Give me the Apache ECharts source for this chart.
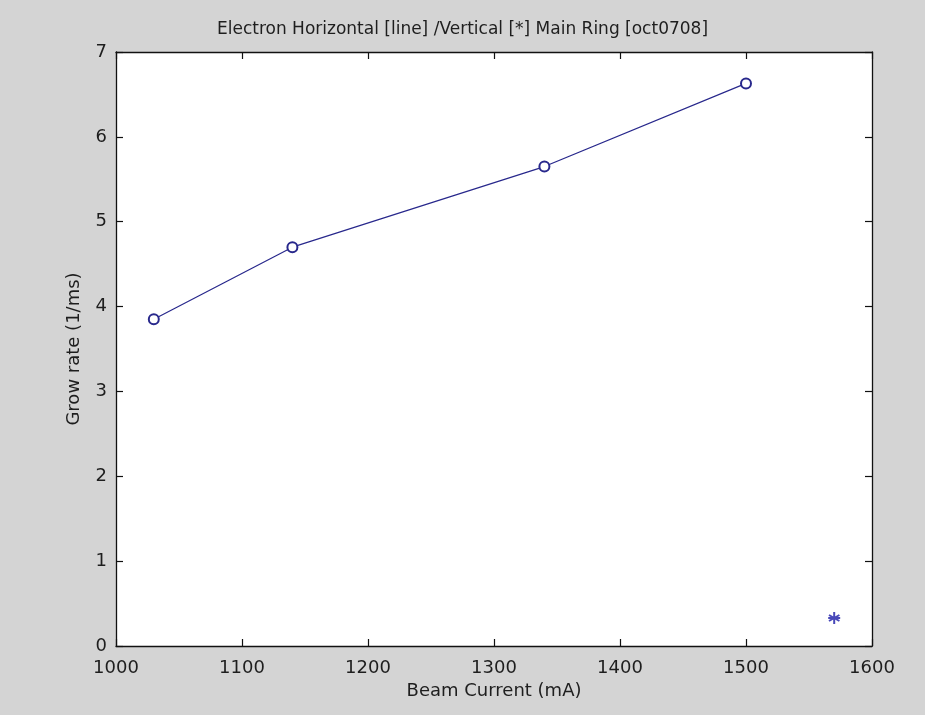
<!DOCTYPE html>
<html><head><meta charset="utf-8">
<script src="https://cdn.jsdelivr.net/npm/echarts@6/dist/echarts.min.js"></script>
<style>html,body{margin:0;padding:0;background:#d4d4d4;}#c{width:925px;height:715px;}</style>
</head><body><div id="c"></div>
<script>
const horizCurrent = [1030, 1140, 1340, 1500];
const horizRate = [3.85, 4.70, 5.65, 6.63];
const vertCurrent = [1570];
const vertRate = [0.33];
const titleText = 'Electron Horizontal [line] /Vertical [*] Main Ring [oct0708]';
const xName = 'Beam Current (mA)';
const yName = 'Grow rate (1/ms)';

const font = 'DejaVu Sans, sans-serif';
const col = '#28288c';
const txt = '#1e1e1e';
const axCommon = {
  axisLine: {show: true, onZero: false, lineStyle: {color: '#111', width: 1.3}},
  axisTick: {show: true, inside: true, length: 7, lineStyle: {color: '#111', width: 1.2}},
  splitLine: {show: false}
};
const chart = echarts.init(document.getElementById('c'));
chart.setOption({
  backgroundColor: '#d4d4d4',
  animation: false,
  title: {text: titleText, left: 'center', top: 16,
    textStyle: {fontFamily: font, fontSize: 17, fontWeight: 'normal', color: txt}},
  grid: {left: 116, right: 53, top: 52, bottom: 69, show: true, backgroundColor: '#fff', borderWidth: 0},
  xAxis: [
    Object.assign({type: 'value', min: 1000, max: 1600, interval: 100, position: 'bottom',
      name: xName, nameLocation: 'middle', nameGap: 36,
      nameTextStyle: {fontFamily: font, fontSize: 18, color: txt},
      axisLabel: {fontFamily: font, fontSize: 18, color: txt, margin: 13,
        formatter: v => String(v)}}, axCommon),
    Object.assign({type: 'value', min: 1000, max: 1600, interval: 100, position: 'top',
      axisLabel: {show: false}}, axCommon)
  ],
  yAxis: [
    Object.assign({type: 'value', min: 0, max: 7, interval: 1, position: 'left',
      name: yName, nameLocation: 'middle', nameGap: 33,
      nameTextStyle: {fontFamily: font, fontSize: 18, color: txt},
      axisLabel: {fontFamily: font, fontSize: 18, color: txt, margin: 9}}, axCommon),
    Object.assign({type: 'value', min: 0, max: 7, interval: 1, position: 'right',
      axisLabel: {show: false}}, axCommon)
  ],
  series: [
    {type: 'line', data: horizCurrent.map((x, i) => [x, horizRate[i]]),
      symbol: 'emptyCircle', symbolSize: 10, showAllSymbol: true,
      lineStyle: {color: col, width: 1.2},
      itemStyle: {color: col, borderColor: col, borderWidth: 1.2}},
    {type: 'scatter', data: vertCurrent.map((x, i) => [x, vertRate[i]]),
      symbol: 'path://M0,-6L0,6M-5.2,-3L5.2,3M-5.2,3L5.2,-3M-6,0L6,0',
      symbolSize: 12,
      itemStyle: {color: 'none', borderColor: '#1a1aa8', borderWidth: 2}}
  ]
});
</script></body></html>
